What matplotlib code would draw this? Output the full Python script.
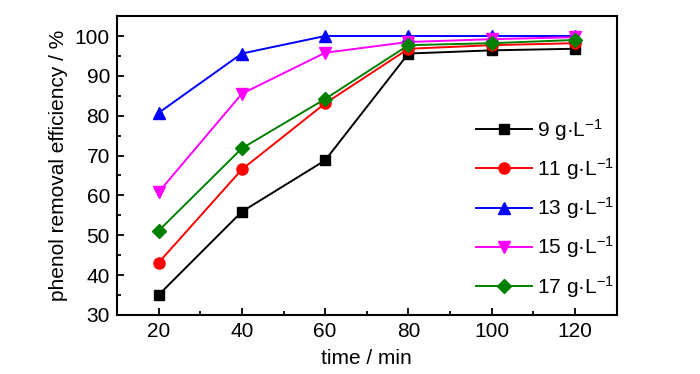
import matplotlib
matplotlib.use("Agg")
import matplotlib.pyplot as plt
from matplotlib.ticker import MultipleLocator

plt.rcParams["font.family"] = ["Liberation Sans", "DejaVu Sans"]
plt.rcParams["mathtext.fontset"] = "custom"
plt.rcParams["mathtext.rm"] = "Liberation Sans"
plt.rcParams["mathtext.it"] = "Liberation Sans"

# ========= datos =========
time_min = [20, 40, 60, 80, 100, 120]
eff_9 = [35.0, 55.9, 68.8, 95.6, 96.4, 96.8]
eff_11 = [43.1, 66.5, 83.1, 96.8, 97.7, 98.2]
eff_13 = [80.7, 95.6, 100.0, 100.0, 100.0, 100.0]
eff_15 = [60.8, 85.5, 95.8, 98.5, 99.2, 99.7]
eff_17 = [51.1, 71.8, 84.2, 97.7, 98.2, 99.0]
labels = ["9 g·L$^{-1}$", "11 g·L$^{-1}$", "13 g·L$^{-1}$",
          "15 g·L$^{-1}$", "17 g·L$^{-1}$"]

series = [eff_9, eff_11, eff_13, eff_15, eff_17]
colors = ["black", "red", "blue", "magenta", "green"]
markers = ["s", "o", "^", "v", "D"]
msizes = [7, 8, 8, 8, 7]

fig = plt.figure(figsize=(7, 3.74), dpi=100)
ax = fig.add_axes([0.167, 0.158, 0.714, 0.799])

for y, c, m, ms, lab in zip(series, colors, markers, msizes, labels):
    ax.plot(time_min, y, color=c, marker=m, markersize=ms, linewidth=1.4,
            label=lab)

ax.set_xlim(10, 130)
ax.set_ylim(30, 105)
ax.xaxis.set_major_locator(MultipleLocator(20))
ax.xaxis.set_minor_locator(MultipleLocator(10))
ax.yaxis.set_major_locator(MultipleLocator(10))
ax.yaxis.set_minor_locator(MultipleLocator(5))
ax.tick_params(which="both", direction="in", width=1.3, labelsize=15)
ax.tick_params(which="major", length=5, pad=5)
ax.tick_params(which="minor", length=3)
for s in ax.spines.values():
    s.set_linewidth(1.5)

ax.set_xlabel("time / min", fontsize=15, labelpad=6)
ax.set_ylabel("phenol removal efficiency / %", fontsize=15, labelpad=5)

ax.legend(loc="upper left", bbox_to_anchor=(0.718, 0.663), frameon=False,
          fontsize=15, handlelength=2.7, labelspacing=0.64,
          handletextpad=0.25, borderpad=0, borderaxespad=0)

plt.savefig("out.png", dpi=100)
plt.close()
